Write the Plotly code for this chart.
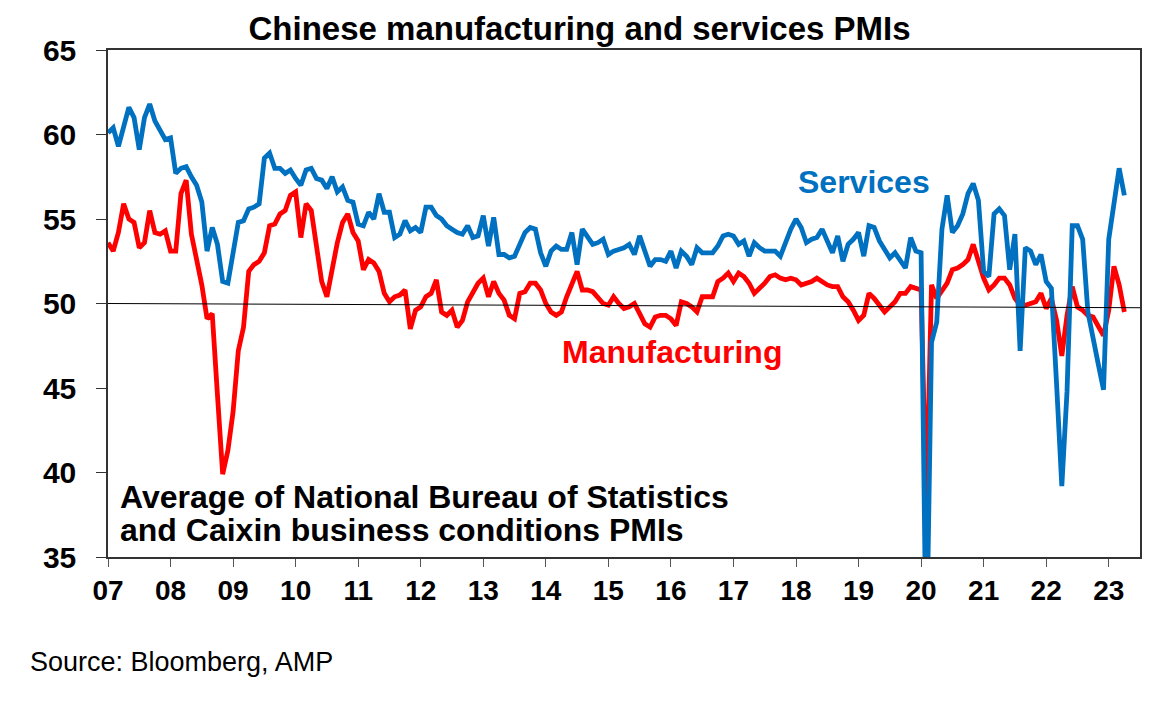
import plotly.graph_objects as go

# monthly, Jan 2007 .. Apr 2023
start_year = 2007
services = [
    60.1, 60.4, 59.3, 60.5, 61.6, 61.0, 59.1, 61.0, 61.8, 60.8, 60.3, 59.7,
    59.8, 57.7, 58.0, 58.1, 57.5, 57.0, 56.0, 53.1, 54.5, 53.5, 51.3, 51.2,
    53.0, 54.8, 54.9, 55.6, 55.7, 55.9, 58.6, 58.9, 58.0, 58.0, 57.7, 57.9,
    57.4, 57.0, 57.9, 58.0, 57.4, 57.3, 56.8, 57.5, 56.6, 56.9, 56.1, 56.0,
    54.7, 54.6, 55.4, 55.0, 56.5, 55.4, 55.4, 53.9, 54.1, 54.9, 54.3, 54.5,
    54.2, 55.7, 55.7, 55.2, 55.0, 54.6, 54.4, 54.2, 54.1, 54.6, 53.9, 54.0,
    55.2, 53.4, 55.1, 52.9, 52.9, 52.7, 52.8, 53.5, 54.2, 54.5, 54.4, 53.0,
    52.2, 53.1, 53.4, 53.2, 53.2, 54.2, 52.3, 54.4, 53.9, 53.5, 53.6, 53.8,
    52.9, 53.1, 53.2, 53.3, 53.5, 52.9, 54.0, 53.0, 52.2, 52.6, 52.6, 52.5,
    53.1, 52.1, 53.1, 52.8, 52.3, 53.3, 53.0, 53.0, 53.0, 53.4, 54.0, 54.1,
    54.0, 53.5, 53.7, 52.8, 53.6, 53.3, 53.1, 53.1, 53.1, 52.8, 53.6, 54.4,
    55.0, 54.5, 53.6, 53.8, 53.9, 54.4, 53.7, 53.0, 54.0, 52.5, 53.5, 53.8,
    54.2, 52.8, 54.6, 54.5, 53.7, 53.2, 52.7, 53.0, 52.5, 52.1, 53.9, 53.1,
    53.0, 28.5, 47.7, 48.9, 54.4, 56.4, 54.2, 54.6, 55.3, 56.5, 57.1, 56.1,
    51.9, 51.6, 55.3, 55.6, 55.2, 52.0, 54.1, 47.2, 53.3, 53.1, 52.3, 52.9,
    51.3, 50.9, 45.2, 39.2, 44.8, 54.6, 54.6, 53.8, 49.5, 48.1, 46.4, 44.9,
    53.8, 55.9, 58.0, 56.4,
]
manufacturing = [
    53.6, 53.1, 54.2, 55.9, 55.0, 54.8, 53.3, 53.6, 55.5, 54.2, 54.1, 54.3,
    53.1, 53.1, 56.5, 57.3, 54.1, 52.6, 51.1, 49.1, 49.4, 44.6, 39.9, 41.3,
    43.6, 47.2, 48.6, 51.9, 52.3, 52.5, 53.0, 54.6, 54.7, 55.3, 55.5, 56.4,
    56.6, 53.9, 55.9, 55.5, 53.4, 51.3, 50.4, 52.2, 53.6, 54.8, 55.3, 54.2,
    53.7, 52.0, 52.6, 52.4, 51.9, 50.6, 50.1, 50.4, 50.5, 50.8, 48.5, 49.6,
    49.8, 50.4, 50.6, 51.4, 49.5, 49.3, 49.6, 48.6, 49.0, 50.1, 50.7, 51.2,
    51.5, 50.4, 51.3, 50.6, 50.2, 49.3, 49.1, 50.6, 50.7, 51.2, 51.2, 50.8,
    50.0, 49.5, 49.3, 49.5, 50.4, 51.1, 51.9, 50.8, 50.8, 50.7, 50.3, 50.0,
    49.9, 50.4, 50.0, 49.7, 49.8, 50.0, 49.4, 48.8, 48.6, 49.2, 49.3, 49.3,
    49.1, 48.7, 50.1, 50.0, 49.8, 49.5, 50.4, 50.4, 50.4, 51.3, 51.5, 51.8,
    51.3, 51.8, 51.6, 51.2, 50.6, 50.9, 51.2, 51.6, 51.7, 51.5, 51.4, 51.5,
    51.4, 51.1, 51.2, 51.3, 51.5, 51.3, 51.1, 51.0, 51.0, 50.4, 50.1, 49.6,
    49.0, 49.3, 50.6, 50.3, 49.9, 49.5, 49.8, 50.1, 50.6, 50.6, 51.0, 50.9,
    50.8, 37.9, 51.1, 50.3, 50.7, 51.2, 52.0, 52.1, 52.3, 52.6, 53.5, 52.5,
    51.5, 50.8, 51.1, 51.5, 51.5, 51.1, 50.3, 49.9, 49.9, 50.0, 50.1, 50.6,
    49.7, 50.3, 49.0, 46.9, 49.3, 51.0, 49.8, 49.6, 49.3, 49.2, 48.7, 48.1,
    49.6, 52.2, 51.1, 49.5,
]
years = list(range(2007, 2024))
year_labels = [str(y)[2:] for y in years]

x = [start_year + i / 12 for i in range(len(services))]

FONT = "Arial, Liberation Sans, sans-serif"
BLUE = "#0070C0"
RED = "#FF0000"

fig = go.Figure()
fig.add_trace(go.Scatter(x=x, y=manufacturing, mode="lines", name="Manufacturing",
                         line=dict(color=RED, width=4.8)))
fig.add_trace(go.Scatter(x=x, y=services, mode="lines", name="Services",
                         line=dict(color=BLUE, width=4.8)))

# 50 line
fig.add_shape(type="line", x0=2007, x1=2023.5, y0=50, y1=49.75,
              line=dict(color="black", width=1))

fig.add_annotation(x=2019.08, y=57.2, text="Services", showarrow=False, yanchor="middle",
                   font=dict(family=FONT, size=32, color=BLUE, weight="bold"))
fig.add_annotation(x=2016.02, y=47.15, text="Manufacturing", showarrow=False, yanchor="middle",
                   font=dict(family=FONT, size=32, color=RED, weight="bold"))
fig.add_annotation(xref="paper", x=0.0097, y=38.55, xanchor="left", yanchor="middle",
                   text="Average of National Bureau of Statistics", showarrow=False,
                   font=dict(family=FONT, size=32, color="black", weight="bold"))
fig.add_annotation(xref="paper", x=0.0097, y=36.6, xanchor="left", yanchor="middle",
                   text="and Caixin business conditions PMIs", showarrow=False,
                   font=dict(family=FONT, size=32, color="black", weight="bold"))
fig.add_annotation(xref="paper", yref="paper", x=-0.0775, y=-0.207,
                   xanchor="left", yanchor="middle",
                   text="Source: Bloomberg, AMP", showarrow=False,
                   font=dict(family=FONT, size=27, color="black"))

# page body has an 8px margin, so the figure is 8px smaller than the window
fig.update_layout(
    width=1157, height=693,
    margin=dict(l=100, r=25, t=42, b=144),
    paper_bgcolor="white", plot_bgcolor="white",
    showlegend=False,
    title=dict(text="Chinese manufacturing and services PMIs", x=0.494, xanchor="center",
               y=0.971, yanchor="middle",
               font=dict(family=FONT, size=33, color="black", weight="bold")),
)
fig.update_xaxes(range=[2007, 2023.5], tickvals=years, ticktext=year_labels,
                 ticks="outside", ticklen=8, tickcolor="#555", showgrid=False,
                 zeroline=False, showline=True, linecolor="#333", linewidth=1.5, mirror=True,
                 tickfont=dict(family=FONT, size=28, color="black", weight="bold"))
fig.update_yaxes(range=[35, 65], dtick=5, ticks="outside", ticklen=10, tickcolor="#333",
                 showgrid=False, zeroline=False, showline=True, linecolor="#333",
                 linewidth=1.5, mirror=True, ticklabelstandoff=14,
                 tickfont=dict(family=FONT, size=30, color="black", weight="bold"))

fig.write_html("out.html")
